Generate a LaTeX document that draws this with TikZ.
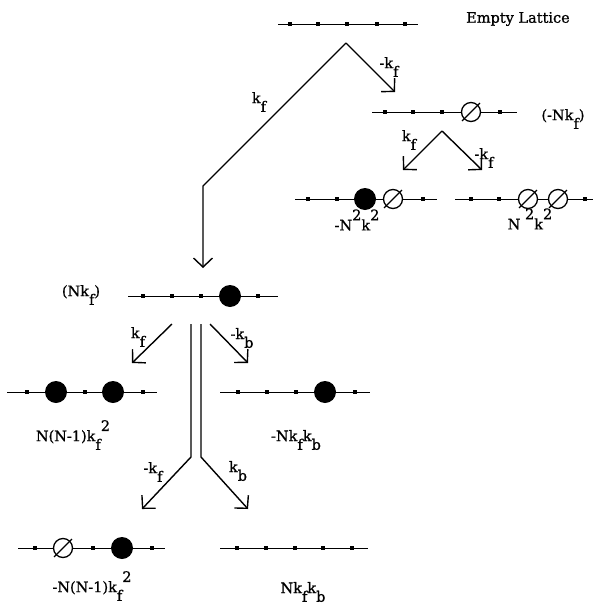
\documentclass[tikz,border=0pt]{standalone}
\usepackage{fontspec}
\setmainfont{DejaVu Serif}
% slightly heavier serif for all labels
\newfontfamily\lblfont{DejaVu Serif}[FakeBold=0.9]
\usetikzlibrary{arrows.meta}
% lowered subscript and raised superscript, set as plain text
\newcommand\lo[1]{\raisebox{-0.6em}{#1}}
\newcommand\hi[1]{\raisebox{0.7em}{#1}}
\begin{document}
\begin{tikzpicture}[x=1pt,y=-1pt,
  chainline/.style={line width=0.9pt},
  site/.style={rectangle,fill=black,minimum size=3.6pt,inner sep=0pt},
  occ/.style={circle,fill=black,minimum size=22pt,inner sep=0pt},
  vac/.style={circle,draw,fill=white,line width=1.3pt,minimum size=19pt,inner sep=0pt,
    append after command={(\tikzlastnode.225) edge[line width=1.3pt,shorten <=-2.5pt,shorten >=-2.5pt] (\tikzlastnode.45)}},
  flow/.style={line width=1.4pt,-{Straight Barb[length=9pt,width=19pt,line width=1.4pt]}},
  lbl/.style={font=\lblfont\fontsize{14.5}{16}\selectfont,inner sep=0pt},
]
\useasboundingbox (0,0) rectangle (597,608);

% ---- empty lattice ----
\draw[chainline] (278,24) -- (418,24);
\foreach \x [count=\i] in {290,318,347,377,405} \node[site] (e\i) at (\x,24) {};
\node[lbl] (tempty) at (518,19) {Empty Lattice};

% ---- one vacancy ----
\draw[chainline] (372,112) -- (517,112);
\foreach \x [count=\i] in {385,413,442,500} \node[site] (v\i) at (\x,112) {};
\node[vac] (vX) at (471,112) {};
\node[lbl] (tv) at (563,119) {(-Nk\lo{f})};

% ---- particle + vacancy ----
\draw[chainline] (295,199) -- (437,199);
\foreach \x [count=\i] in {308,337,423} \node[site] (pv\i) at (\x,199) {};
\node[occ] (pvO) at (365,199) {};
\node[vac] (pvX) at (393,199) {};
\node[lbl] (tpv) at (357,220) {-N\hi{2}k\hi{2}};

% ---- two vacancies ----
\draw[chainline] (455,199) -- (593,199);
\foreach \x [count=\i] in {471,499,585} \node[site] (vv\i) at (\x,199) {};
\node[vac] (vvX1) at (528,199) {};
\node[vac] (vvX2) at (558,199) {};
\node[lbl] (tvv) at (530,219) {N \hi{2}k\hi{2}};

% ---- one particle ----
\draw[chainline] (128,296) -- (278,296);
\foreach \x [count=\i] in {143,172,201,258} \node[site] (o\i) at (\x,296) {};
\node[occ] (oO) at (230,296) {};
\node[lbl] (to) at (81,295) {(Nk\lo{f})};

% ---- two particles ----
\draw[chainline] (7,392) -- (157,392);
\foreach \x [count=\i] in {27,85,143} \node[site] (oo\i) at (\x,392) {};
\node[occ] (ooO1) at (56,392) {};
\node[occ] (ooO2) at (113,392) {};
\node[lbl] (too) at (73,435) {N(N-1)k\lo{f}\hi{2}};

% ---- particle moved back ----
\draw[chainline] (220,392) -- (370,392);
\foreach \x [count=\i] in {238,267,296,355} \node[site] (ob\i) at (\x,392) {};
\node[occ] (obO) at (325,392) {};
\node[lbl] (tob) at (296,440) {-Nk\lo{f}k\lo{b}};

% ---- vacancy + particle ----
\draw[chainline] (18,548) -- (165,548);
\foreach \x [count=\i] in {35,93,152} \node[site] (xo\i) at (\x,548) {};
\node[vac] (xoX) at (63,548) {};
\node[occ] (xoO) at (122,548) {};
\node[lbl] (txo) at (92,586) {-N(N-1)k\lo{f}\hi{2}};

% ---- empty again ----
\draw[chainline] (220,548) -- (368,548);
\foreach \x [count=\i] in {237,266,295,323,352} \node[site] (ee\i) at (\x,548) {};
\node[lbl] (tee) at (303,592) {Nk\lo{f}k\lo{b}};

% ---- connectors ----
\coordinate (p1) at (346,43);
\coordinate (c1) at (203,186);
\coordinate (a1) at (203,268);
\coordinate (a2) at (395,92);
\draw[flow] (p1) -- (c1) -- (a1);
\draw[flow] (p1) -- (a2);
\node[lbl] (l1) at (259,102) {k\lo{f}};
\node[lbl] (l2) at (389,67) {-k\lo{f}};

\coordinate (p2) at (442,131);
\coordinate (a3) at (403,170);
\coordinate (a4) at (482,170);
\draw[flow] (p2) -- (a3);
\draw[flow] (p2) -- (a4);
\node[lbl] (l3) at (409,140) {k\lo{f}};
\node[lbl] (l4) at (484,158) {-k\lo{f}};

\coordinate (s3) at (172,324);
\coordinate (a5) at (132,363);
\coordinate (s4) at (210,324);
\coordinate (a6) at (248,363);
\draw[flow] (s3) -- (a5);
\draw[flow] (s4) -- (a6);
\node[lbl] (l5) at (138,337) {k\lo{f}};
\node[lbl] (l6) at (242,338) {-k\lo{b}};

\coordinate (s5) at (191,324);
\coordinate (c5) at (191,457);
\coordinate (a7) at (142,509);
\coordinate (s6) at (201,324);
\coordinate (c6) at (201,457);
\coordinate (a8) at (248,509);
\draw[flow] (s5) -- (c5) -- (a7);
\draw[flow] (s6) -- (c6) -- (a8);
\node[lbl] (l7) at (153,472) {-k\lo{f}};
\node[lbl] (l8) at (238,471) {k\lo{b}};
\end{tikzpicture}
\end{document}
